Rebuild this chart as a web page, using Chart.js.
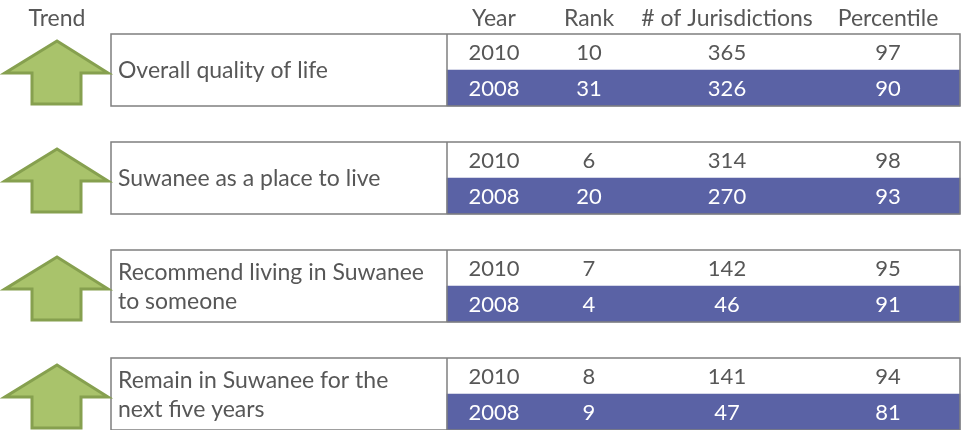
<!DOCTYPE html>
<html>
<head>
<meta charset="utf-8">
<script src="https://cdn.jsdelivr.net/npm/chart.js@4"></script>
<style>
  html, body { margin: 0; padding: 0; background: #ffffff; }
  #wrap { width: 966px; height: 430px; position: relative; }
</style>
</head>
<body>
<div id="wrap"><canvas id="c" width="966" height="430"></canvas></div>
<script>
// ---- data ----
const headers = ['Trend', 'Year', 'Rank', '# of Jurisdictions', 'Percentile'];
const measures = [
  ['Overall quality of life'],
  ['Suwanee as a place to live'],
  ['Recommend living in Suwanee', 'to someone'],
  ['Remain in Suwanee for the', 'next five years']
];
const trend = ['up', 'up', 'up', 'up'];
const years = ['2010', '2008'];
const rank2010 = [10, 6, 7, 8];
const rank2008 = [31, 20, 4, 9];
const juris2010 = [365, 314, 142, 141];
const juris2008 = [326, 270, 46, 47];
const pct2010 = [97, 98, 95, 94];
const pct2008 = [90, 93, 91, 81];

// ---- layout (x scale units, 0..966) ----
const X = { arrowL: 5, arrowR: 108, stemL: 32, stemR: 81, boxL: 111, divider: 447, boxR: 960,
            labelX: 118, trend: 57, year: 494, rank: 589, juris: 727, pct: 888 };
const COLORS = { text: '#575757', blue: '#5a62a5', border: '#7f7f7f', arrowFill: '#a9c36b', arrowLine: '#86a04f' };
const FONT = 'Lato, "Open Sans", sans-serif';

// rows: each group = 2010 row, 2008 row, gap row
const rowLabels = [];
const rowYear = [];
measures.forEach((m, g) => {
  rowLabels.push('g' + g + '-2010', 'g' + g + '-2008');
  rowYear.push(years[0], years[1]);
  if (g < measures.length - 1) { rowLabels.push('gap' + g); rowYear.push(null); }
});
const blueBars = rowYear.map(y => y === years[1] ? [X.divider, X.boxR] : null);

const tablePlugin = {
  id: 'tablePlugin',
  beforeDatasetsDraw(chart) {
    const ctx = chart.ctx, xs = chart.scales.x, ys = chart.scales.y;
    const rowH = ys.getPixelForValue(1) - ys.getPixelForValue(0);
    ctx.save();
    measures.forEach((m, g) => {
      const top = ys.getPixelForValue(g * 3) - rowH / 2;
      ctx.fillStyle = '#ffffff';
      ctx.fillRect(xs.getPixelForValue(X.boxL), top, xs.getPixelForValue(X.boxR) - xs.getPixelForValue(X.boxL), rowH * 2);
    });
    ctx.restore();
  },
  afterDatasetsDraw(chart) {
    const ctx = chart.ctx, xs = chart.scales.x, ys = chart.scales.y;
    const rowH = ys.getPixelForValue(1) - ys.getPixelForValue(0);
    const px = v => xs.getPixelForValue(v);
    ctx.save();
    // header
    ctx.font = '23px ' + FONT;
    ctx.fillStyle = COLORS.text;
    ctx.textAlign = 'center';
    ctx.textBaseline = 'middle';
    const hx = [X.trend, X.year, X.rank, X.juris, X.pct];
    headers.forEach((h, i) => ctx.fillText(h, px(hx[i]), chart.chartArea.top - 15));

    measures.forEach((m, g) => {
      const r0 = g * 3;
      const top = ys.getPixelForValue(r0) - rowH / 2;
      const bottom = top + rowH * 2;
      const mid = (top + bottom) / 2;
      // borders
      ctx.strokeStyle = COLORS.border;
      ctx.lineWidth = 1.5;
      ctx.strokeRect(px(X.boxL), top, px(X.boxR) - px(X.boxL), bottom - top);
      ctx.beginPath();
      ctx.moveTo(px(X.divider), top); ctx.lineTo(px(X.divider), bottom);
      ctx.stroke();
      // arrow
      if (trend[g] === 'up') {
        const tipY = top + 7, wingY = top + 39, baseY = bottom - 2;
        ctx.beginPath();
        ctx.moveTo(px(X.trend), tipY);
        ctx.lineTo(px(X.arrowR), wingY);
        ctx.lineTo(px(X.stemR), wingY);
        ctx.lineTo(px(X.stemR), baseY);
        ctx.lineTo(px(X.stemL), baseY);
        ctx.lineTo(px(X.stemL), wingY);
        ctx.lineTo(px(X.arrowL), wingY);
        ctx.closePath();
        ctx.fillStyle = COLORS.arrowFill;
        ctx.fill();
        ctx.strokeStyle = COLORS.arrowLine;
        ctx.lineWidth = 3;
        ctx.lineJoin = 'miter';
        ctx.stroke();
      }
      // label
      ctx.font = '23px ' + FONT;
      ctx.fillStyle = COLORS.text;
      ctx.textAlign = 'left';
      ctx.textBaseline = 'middle';
      const lh = 29;
      m.forEach((line, i) => {
        ctx.fillText(line, px(X.labelX), mid + 1 + (i - (m.length - 1) / 2) * lh);
      });
      // values
      ctx.font = '22px ' + FONT;
      const rows = [
        [years[0], rank2010[g], juris2010[g], pct2010[g]],
        [years[1], rank2008[g], juris2008[g], pct2008[g]]
      ];
      rows.forEach((vals, k) => {
        const cy = ys.getPixelForValue(r0 + k);
        ctx.fillStyle = k === 1 ? '#ffffff' : COLORS.text;
        ctx.textAlign = 'center';
        [X.year, X.rank, X.juris, X.pct].forEach((cx, j) => ctx.fillText(String(vals[j]), px(cx), cy + 1));
      });
    });
    ctx.restore();
  }
};

new Chart(document.getElementById('c'), {
  type: 'bar',
  data: {
    labels: rowLabels,
    datasets: [{
      data: blueBars,
      backgroundColor: COLORS.blue,
      borderWidth: 0,
      barPercentage: 1,
      categoryPercentage: 1
    }]
  },
  options: {
    indexAxis: 'y',
    responsive: false,
    animation: false,
    layout: { padding: { top: 34, left: 0, right: 0, bottom: 0 } },
    plugins: { legend: { display: false }, tooltip: { enabled: false } },
    scales: {
      x: { type: 'linear', min: 0, max: 966, display: false },
      y: { type: 'category', display: false, offset: true }
    }
  },
  plugins: [tablePlugin]
});
</script>
</body>
</html>
